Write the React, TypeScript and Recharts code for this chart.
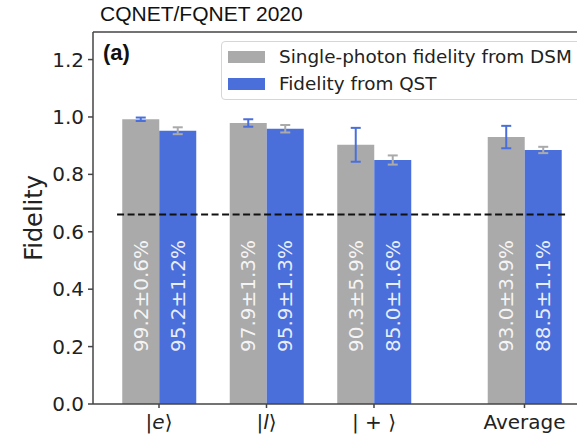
import { BarChart, Bar, XAxis, YAxis, ErrorBar, ReferenceLine, Legend } from 'recharts';

// categories sit at uneven x positions (extra gap before the average)
const categories = ['e', 'l', '+', 'Average'];
const positions = [0, 1, 2, 3.4];

const dsmFidelity = [0.992, 0.979, 0.903, 0.930];
const dsmError = [0.006, 0.013, 0.059, 0.039];
const qstFidelity = [0.952, 0.959, 0.850, 0.885];
const qstError = [0.012, 0.013, 0.016, 0.011];

const yTicks = [0, 0.2, 0.4, 0.6, 0.8, 1.0, 1.2];
const classicalBound = 0.66;
const boundSpan = [-0.39, 3.8];

const GRAY = '#aaaaaa';
const BLUE = '#4a6fdb';
const FONT = '"DejaVu Sans", sans-serif';

const data = positions.map((pos, i) => ({
  pos,
  dsm: dsmFidelity[i],
  dsmErr: dsmError[i],
  qst: qstFidelity[i],
  qstErr: qstError[i],
}));

const pct = (v: number, e: number) => `${(v * 100).toFixed(1)}±${(e * 100).toFixed(1)}%`;

function barText(values: number[], errors: number[]) {
  return (props: any) => {
    const { x, y, width, height, index } = props;
    const cx = x + width / 2;
    const by = y + height - 52;
    return (
      <text
        x={cx}
        y={by}
        transform={`rotate(-90 ${cx} ${by})`}
        textAnchor="start"
        dominantBaseline="central"
        fill="#ffffff"
        fillOpacity={0.88}
        fontSize={20}
        fontFamily={FONT}
      >
        {pct(values[index], errors[index])}
      </text>
    );
  };
}

function XTick(props: any) {
  const { x, y, payload } = props;
  const i = positions.indexOf(payload.value);
  const name = categories[i];
  let body;
  if (name === 'Average') body = <tspan>Average</tspan>;
  else if (name === '+') body = <tspan>| + ⟩</tspan>;
  else
    body = (
      <>
        <tspan>|</tspan>
        <tspan fontStyle="italic">{name}</tspan>
        <tspan>⟩</tspan>
      </>
    );
  return (
    <text x={x} y={y + 19} textAnchor="middle" fontSize={20} fontFamily={FONT} fill="#222">
      {body}
    </text>
  );
}

function LegendBox() {
  const rows = [
    { name: 'Single-photon fidelity from DSM', color: GRAY },
    { name: 'Fidelity from QST', color: BLUE },
  ];
  return (
    <div
      style={{
        width: 380,
        height: 59,
        border: '1px solid #d6d6d6',
        borderRadius: 4,
        background: 'rgba(255,255,255,0.85)',
        boxSizing: 'border-box',
        position: 'relative',
        fontFamily: FONT,
        fontSize: 18.4,
        color: '#222',
      }}
    >
      {rows.map((r, i) => (
        <div key={r.name} style={{ position: 'absolute', left: 6, top: 4 + i * 27, height: 22, display: 'flex', alignItems: 'center' }}>
          <span style={{ display: 'inline-block', width: 37, height: 12, background: r.color }} />
          <span style={{ marginLeft: 14, whiteSpace: 'nowrap', lineHeight: '22px' }}>{r.name}</span>
        </div>
      ))}
    </div>
  );
}

export default function App() {
  return (
    <div style={{ position: 'absolute', left: 0, top: 0, width: 577, height: 435, overflow: 'hidden', background: '#fff' }}>
      <div style={{ position: 'absolute', left: 100, top: 2, fontFamily: '"Liberation Sans", Arial, sans-serif', fontSize: 21, color: '#111', whiteSpace: 'nowrap' }}>
        CQNET/FQNET 2020
      </div>
      <BarChart
        width={585}
        height={435}
        data={data}
        margin={{ top: 32, right: 0, bottom: 0, left: 0 }}
        barGap={0}
        barSize={37}
      >
        <XAxis
          dataKey="pos"
          type="number"
          domain={[-0.614, 3.963]}
          allowDataOverflow
          ticks={positions}
          height={31}
          tickSize={4}
          tickMargin={2}
          tick={<XTick />}
          stroke="#444"
          strokeWidth={1.5}
        />
        <YAxis
          type="number"
          domain={[0, 1.296]}
          allowDataOverflow
          ticks={yTicks}
          width={93}
          tickSize={5}
          tickMargin={4}
          tickFormatter={(v: number) => v.toFixed(1)}
          tick={{ fontSize: 20, fontFamily: FONT, fill: '#222' }}
          stroke="#444"
          strokeWidth={1.5}
          label={{ value: 'Fidelity', angle: -90, position: 'center', dx: -13, style: { fontSize: 24, fontFamily: FONT, fill: '#222' } }}
        />
        <ReferenceLine y={1.296} stroke="#444" strokeWidth={1.5} />
        <Bar dataKey="dsm" name="Single-photon fidelity from DSM" fill={GRAY} isAnimationActive={false} label={barText(dsmFidelity, dsmError)}>
          <ErrorBar dataKey="dsmErr" direction="y" width={5} stroke={BLUE} strokeWidth={2} />
        </Bar>
        <Bar dataKey="qst" name="Fidelity from QST" fill={BLUE} isAnimationActive={false} label={barText(qstFidelity, qstError)}>
          <ErrorBar dataKey="qstErr" direction="y" width={5} stroke={GRAY} strokeWidth={2} />
        </Bar>
        <ReferenceLine
          segment={[
            { x: boundSpan[0], y: classicalBound },
            { x: boundSpan[1], y: classicalBound },
          ]}
          stroke="#111"
          strokeWidth={2}
          strokeDasharray="7 3.5"
        />
        <Legend
          layout="horizontal"
          align="center"
          verticalAlign="middle"
          content={() => <LegendBox />}
          wrapperStyle={{ left: 221, top: 41, width: 380, height: 59 }}
        />
      </BarChart>
      <div style={{ position: 'absolute', left: 103, top: 40, fontFamily: '"Liberation Sans", Arial, sans-serif', fontWeight: 'bold', fontSize: 22, color: '#111' }}>
        (a)
      </div>
    </div>
  );
}
